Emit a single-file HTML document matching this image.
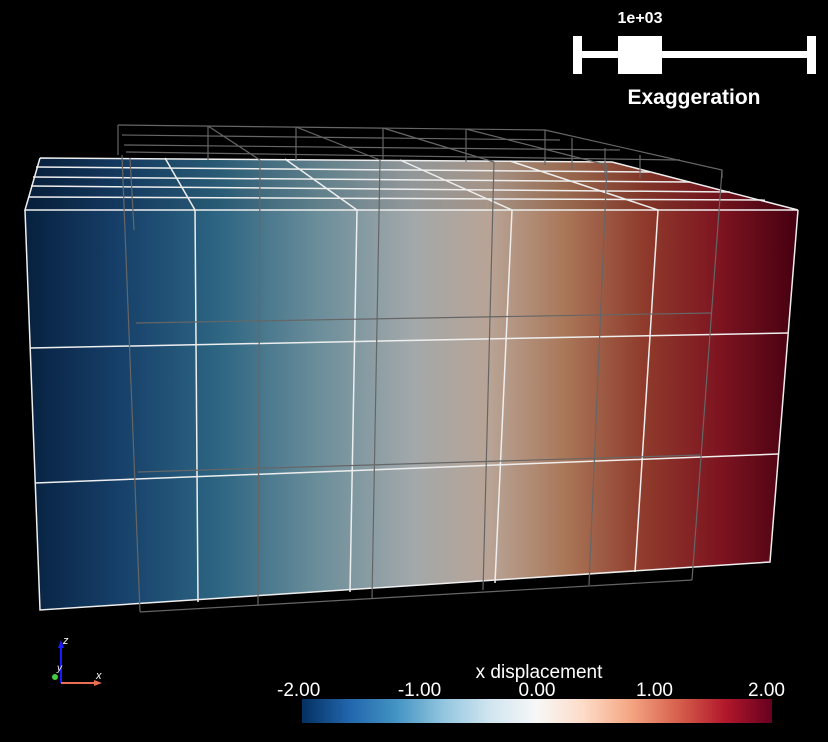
<!DOCTYPE html>
<html><head><meta charset="utf-8"><style>
body{margin:0;background:#000;width:828px;height:742px;overflow:hidden;font-family:"Liberation Sans",sans-serif}
svg{display:block}
</style></head><body>
<svg id="scene" width="828" height="742" viewBox="0 0 828 742" xmlns="http://www.w3.org/2000/svg">
<defs>
<linearGradient id="body" x1="25" y1="0" x2="798" y2="0" gradientUnits="userSpaceOnUse">
<stop offset="0" stop-color="#07213f"/><stop offset="0.12" stop-color="#163f69"/><stop offset="0.25" stop-color="#2d6582"/><stop offset="0.38" stop-color="#6b8e9a"/><stop offset="0.5" stop-color="#a2a8aa"/><stop offset="0.6" stop-color="#b8a496"/><stop offset="0.7" stop-color="#a97658"/><stop offset="0.8" stop-color="#8f3b2c"/><stop offset="0.9" stop-color="#7d1420"/><stop offset="1" stop-color="#450010"/>
</linearGradient>
<linearGradient id="cbar" x1="0" y1="0" x2="1" y2="0">
<stop offset="0" stop-color="#053061"/><stop offset="0.1" stop-color="#2166ac"/><stop offset="0.2" stop-color="#4393c3"/><stop offset="0.3" stop-color="#92c5de"/><stop offset="0.4" stop-color="#d1e5f0"/><stop offset="0.5" stop-color="#f7f7f7"/><stop offset="0.6" stop-color="#fddbc7"/><stop offset="0.7" stop-color="#f4a582"/><stop offset="0.8" stop-color="#d6604d"/><stop offset="0.9" stop-color="#b2182b"/><stop offset="1" stop-color="#67001f"/>
</linearGradient>
</defs>
<g>
<polygon points="40,158 612,162 798,210 25,210" fill="url(#body)" opacity="0.9"/>
<polygon points="25,210 798,210 770,562 40,610" fill="url(#body)"/>
<g stroke="#eee" stroke-width="1.5" fill="none">
<polyline points="40,158 612,162 798,210 25,210 40,158"/>
<polyline points="25,210 40,610 770,562 798,210"/>
<line x1="36" y1="167" x2="650" y2="172"/><line x1="33" y1="177" x2="690" y2="182"/><line x1="31" y1="186" x2="730" y2="192"/><line x1="29" y1="197" x2="765" y2="200"/>
<line x1="165" y1="158" x2="195" y2="210"/><line x1="285" y1="159" x2="357" y2="210"/><line x1="400" y1="160" x2="512" y2="210"/><line x1="510" y1="161" x2="658" y2="210"/>
<line x1="195" y1="210" x2="198" y2="602"/><line x1="357" y1="210" x2="350" y2="592"/><line x1="512" y1="210" x2="495" y2="583"/><line x1="658" y1="210" x2="635" y2="572"/>
<line x1="30" y1="348" x2="788" y2="333"/><line x1="35" y1="483" x2="778" y2="454"/>
</g>
</g>
<g stroke="#666" stroke-width="1.2" fill="none">
<polyline points="118,125 545,130 722,170 722,178"/>
<line x1="118" y1="125" x2="118" y2="155"/>
<line x1="122" y1="135" x2="560" y2="140"/><line x1="124" y1="145" x2="620" y2="150"/><line x1="126" y1="152" x2="680" y2="160"/>
<line x1="208" y1="126" x2="260" y2="160"/><line x1="296" y1="127" x2="380" y2="160"/><line x1="383" y1="128" x2="494" y2="162"/><line x1="466" y1="129" x2="607" y2="165"/>
<line x1="208" y1="126" x2="208" y2="160"/><line x1="296" y1="127" x2="296" y2="160"/><line x1="383" y1="128" x2="383" y2="160"/><line x1="466" y1="129" x2="466" y2="162"/><line x1="545" y1="130" x2="545" y2="165"/><line x1="572" y1="138" x2="572" y2="170"/><line x1="605" y1="148" x2="605" y2="175"/><line x1="640" y1="155" x2="640" y2="178"/>
<line x1="122" y1="155" x2="140" y2="612"/><line x1="130" y1="158" x2="134" y2="230"/>
<line x1="260" y1="160" x2="258" y2="605"/><line x1="380" y1="160" x2="372" y2="598"/><line x1="494" y1="162" x2="483" y2="590"/><line x1="607" y1="165" x2="589" y2="585"/><line x1="722" y1="170" x2="692" y2="580"/>
<polyline points="140,612 692,580"/>
<line x1="136" y1="323" x2="712" y2="313"/><line x1="138" y1="472" x2="700" y2="455"/>
</g>
<g fill="#fff">
<rect x="580" y="51" width="230" height="7"/>
<rect x="573" y="36" width="9" height="38"/>
<rect x="807" y="36" width="9" height="38"/>
<rect x="618" y="36" width="44" height="38"/>
<text x="640" y="23" font-size="16" font-weight="bold" text-anchor="middle">1e+03</text>
<text x="694" y="104" font-size="21" font-weight="bold" text-anchor="middle">Exaggeration</text>
</g>
<g>
<line x1="61" y1="683" x2="61" y2="646" stroke="#1a1aff" stroke-width="2"/><polygon points="58,648 64,648 61,640" fill="#1a1aff"/>
<line x1="61" y1="683" x2="96" y2="683" stroke="#e87050" stroke-width="2"/><polygon points="94,680 94,686 102,683" fill="#e87050"/>
<circle cx="55" cy="677" r="3" fill="#4c4"/>
<text x="63" y="644" fill="#fff" font-size="11" font-style="italic">z</text>
<text x="57" y="671" fill="#fff" font-size="10" font-style="italic">y</text>
<text x="96" y="679" fill="#fff" font-size="11" font-style="italic">x</text>
</g>
<g id="legend">
<rect x="302" y="699" width="470" height="24" fill="url(#cbar)"/>
<text x="539" y="678" fill="#fff" font-size="19" text-anchor="middle">x displacement</text>
</g>
</svg>
<script>
const tickValues = [-2, -1, 0, 1, 2];
const tickLabels = ["-2.00", "-1.00", "0.00", "1.00", "2.00"];
const legend = document.getElementById('legend');
const x0 = 302, x1 = 772, vmin = -2, vmax = 2;
function xs(v){ return x0 + (v - vmin) / (vmax - vmin) * (x1 - x0); }
tickValues.forEach((v, i) => {
  const t = document.createElementNS('http://www.w3.org/2000/svg', 'text');
  
  
  let x = xs(v);
  let anchor = 'middle';
  if (i === 0) { x = 277; anchor = 'start'; }
  if (i === tickValues.length - 1) { x = 785; anchor = 'end'; }
  t.setAttribute('x', x);
  t.setAttribute('y', 696);
  t.setAttribute('fill', '#fff');
  t.setAttribute('font-size', '19');
  t.setAttribute('text-anchor', anchor);
  t.textContent = tickLabels[i];
  legend.appendChild(t);
});
</script>
</body></html>
